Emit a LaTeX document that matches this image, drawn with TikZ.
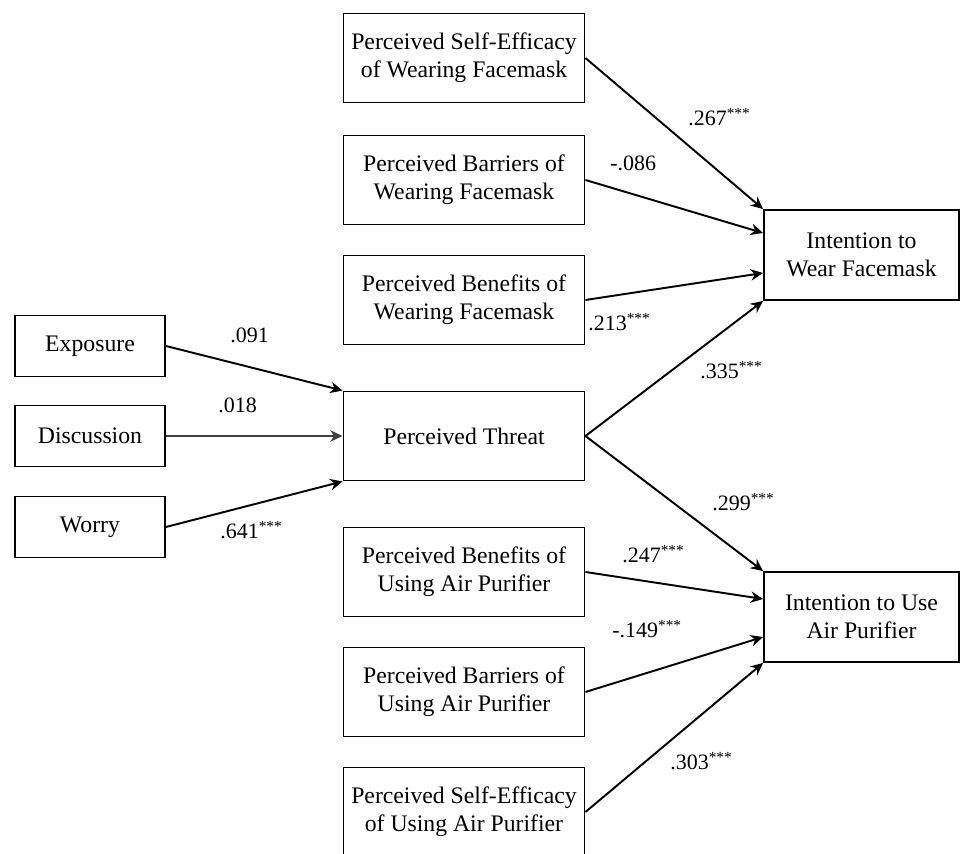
\documentclass[tikz,border=0pt]{standalone}
\usepackage{fontspec}
\setmainfont{Liberation Serif}
\usetikzlibrary{arrows.meta}

\begin{document}
\begin{tikzpicture}
[x=0.02cm,y=-0.02cm,
  boxDecorate/.style={shape=rectangle,draw,line width=1.1pt,align=center,
    inner sep=1pt,font=\fontsize{13.5}{16}\selectfont},
  smallBox/.style={boxDecorate,minimum width=3cm,minimum height=1.22cm},
  midBox/.style={boxDecorate,minimum width=4.82cm,minimum height=1.78cm},
  outBox/.style={boxDecorate,minimum width=3.9cm,minimum height=1.8cm},
  lineDecorate/.style={-{Stealth[length=7pt,width=6.5pt]},line width=1.1pt},
  coefDecorate/.style={anchor=base west,inner sep=0pt,font=\fontsize{12.5}{14}\selectfont}]
\useasboundingbox (0,0) rectangle (961,854);
%% antecedents of threat
\foreach \nodename/\y/\txt in {exposure/346/Exposure, discussion/436/Discussion,
  worry/527/Worry}
{
  \node (\nodename) at (90,\y) [smallBox] {\txt};
}
%% middle column
\foreach \nodename/\y/\txt in {
  sew/58/{Perceived Self-Efficacy\\of Wearing Facemask},
  baw/180/{Perceived Barriers of\\Wearing Facemask},
  bew/300/{Perceived Benefits of\\Wearing Facemask},
  threat/436/{Perceived Threat},
  beu/572/{Perceived Benefits of\\Using Air Purifier},
  bau/692/{Perceived Barriers of\\Using Air Purifier},
  seu/812/{Perceived Self-Efficacy\\of Using Air Purifier}}
{
  \node (\nodename) at (464,\y) [midBox] {\txt};
}
%% outcomes
\node (wear) at (861.5,255) [outBox] {Intention to\\Wear Facemask};
\node (use) at (861.5,617) [outBox] {Intention to Use\\Air Purifier};
%% paths
\foreach \startnode/\endnode/\dy in {
  exposure/threat.north west/0, worry/threat.south west/0,
  sew/wear.north west/0, baw/wear.west/-22, bew/wear.west/18,
  threat/wear.south west/0, threat/use.north west/0,
  beu/use.west/-18, bau/use.west/20, seu/use.south west/0}
{
  \draw[lineDecorate] (\startnode.east) -- ([yshift=-0.02cm*\dy]\endnode);
}
\draw[lineDecorate,line width=0.9pt,black!75] (discussion) -- (threat);
%% coefficients
\foreach \nodename/\x/\y/\txt in {
  c091/230/343/.091, c018/218/413/.018, c641/220/539/{.641\textsuperscript{***}},
  c267/688/126/{.267\textsuperscript{***}}, c086/610/171/-.086,
  c213/588/331/{.213\textsuperscript{***}}, c335/700/379/{.335\textsuperscript{***}},
  c299/712/511/{.299\textsuperscript{***}}, c247/622/563/{.247\textsuperscript{***}},
  c149/612/638/{-.149\textsuperscript{***}}, c303/670/770/{.303\textsuperscript{***}}}
{
  \node (\nodename) at (\x,\y) [coefDecorate] {\txt};
}
\end{tikzpicture}
\end{document}
